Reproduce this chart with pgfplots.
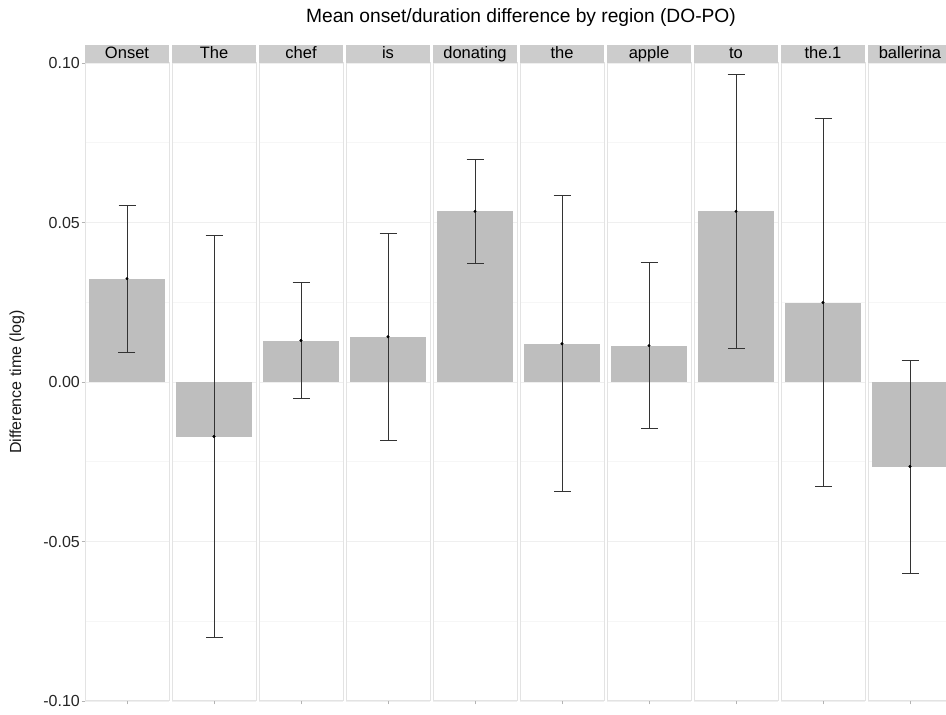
\documentclass[border=0pt]{standalone}
\usepackage{fontspec}
\setmainfont{Liberation Sans}
\usepackage{pgfplots}
\pgfplotsset{compat=1.18}

\definecolor{barfill}{HTML}{BEBEBE}
\definecolor{stripfill}{HTML}{CCCCCC}
\definecolor{panelborder}{HTML}{E3E3E3}
\definecolor{gridmajor}{HTML}{EFEFEF}
\definecolor{gridminor}{HTML}{F6F6F6}
\definecolor{tickgrey}{HTML}{B3B3B3}
\definecolor{errline}{HTML}{333333}

\pgfplotsset{
  facet/.style={
    scale only axis, width=84pt, height=638pt, anchor=south west,
    xmin=0, xmax=1, ymin=-0.1, ymax=0.1,
    axis line style={draw=panelborder, line width=1pt},
    xtick={0.5}, xticklabels={},
    ytick={-0.1,-0.05,0,0.05,0.1}, yticklabels={},
    minor ytick={-0.075,-0.025,0.025,0.075},
    ymajorgrids, yminorgrids,
    major grid style={draw=gridmajor, line width=0.6pt},
    minor grid style={draw=gridminor, line width=0.5pt},
    tick align=outside, major tick length=3.5pt, minor tick length=0pt,
    xtick pos=left, ytick pos=left,
    tick style={draw=tickgrey, line width=0.6pt},
    ytick style={draw=none},
    every axis title/.style={at={(0.5,1)}, anchor=south, fill=stripfill,
      minimum width=84pt, inner xsep=0pt, inner ysep=0.95pt,
      text height=12pt, text depth=3.4pt, text=black,
      font=\fontsize{16.5}{18}\selectfont},
  },
  firstfacet/.style={
    ytick style={draw=tickgrey, line width=0.6pt},
    yticklabels={-0.10,-0.05,0.00,0.05,0.10},
    yticklabel style={font=\fontsize{16}{19}\selectfont, text=black!85, inner xsep=1.5pt},
  },
}

% one facet: [extra axis options]{column}{region}{mean}{half-width of interval}
\newcommand{\facet}[5][]{%
  \begin{axis}[facet, at={({85pt+87pt*#2},14pt)}, title={#3}, #1]
    \addplot[ybar, bar width=76.4pt, fill=barfill, draw=none] coordinates {(0.5,#4)};
    \addplot[only marks, mark=*, mark size=1.3pt, color=black,
      error bars/.cd, y dir=both, y explicit,
      error bar style={line width=0.7pt, draw=errline},
      error mark options={rotate=90, mark size=8.5pt, line width=0.7pt, draw=errline}]
      coordinates {(0.5,#4) +- (0,#5)};
  \end{axis}%
}

\begin{document}
\begin{tikzpicture}
\path[use as bounding box] (0,0) rectangle (946pt,715pt);
\clip (0,0) rectangle (946pt,715pt);

\facet[firstfacet]{0}{Onset}{0.0324}{0.0231}
\facet{1}{The}{-0.0171}{0.0630}
\facet{2}{chef}{0.0130}{0.0181}
\facet{3}{is}{0.0142}{0.0324}
\facet{4}{donating}{0.0535}{0.0163}
\facet{5}{the}{0.0120}{0.0464}
\facet{6}{apple}{0.0114}{0.0260}
\facet{7}{to}{0.0535}{0.0430}
\facet{8}{the.1}{0.0249}{0.0577}
\facet{9}{ballerina}{-0.0265}{0.0334}

\node[anchor=base, font=\fontsize{19.2}{23}\selectfont] at (521pt,692pt)
  {Mean onset/duration difference by region (DO-PO)};
\node[rotate=90, font=\fontsize{16}{19}\selectfont, text=black!90] at (17pt,333pt)
  {Difference time (log)};
\end{tikzpicture}
\end{document}
